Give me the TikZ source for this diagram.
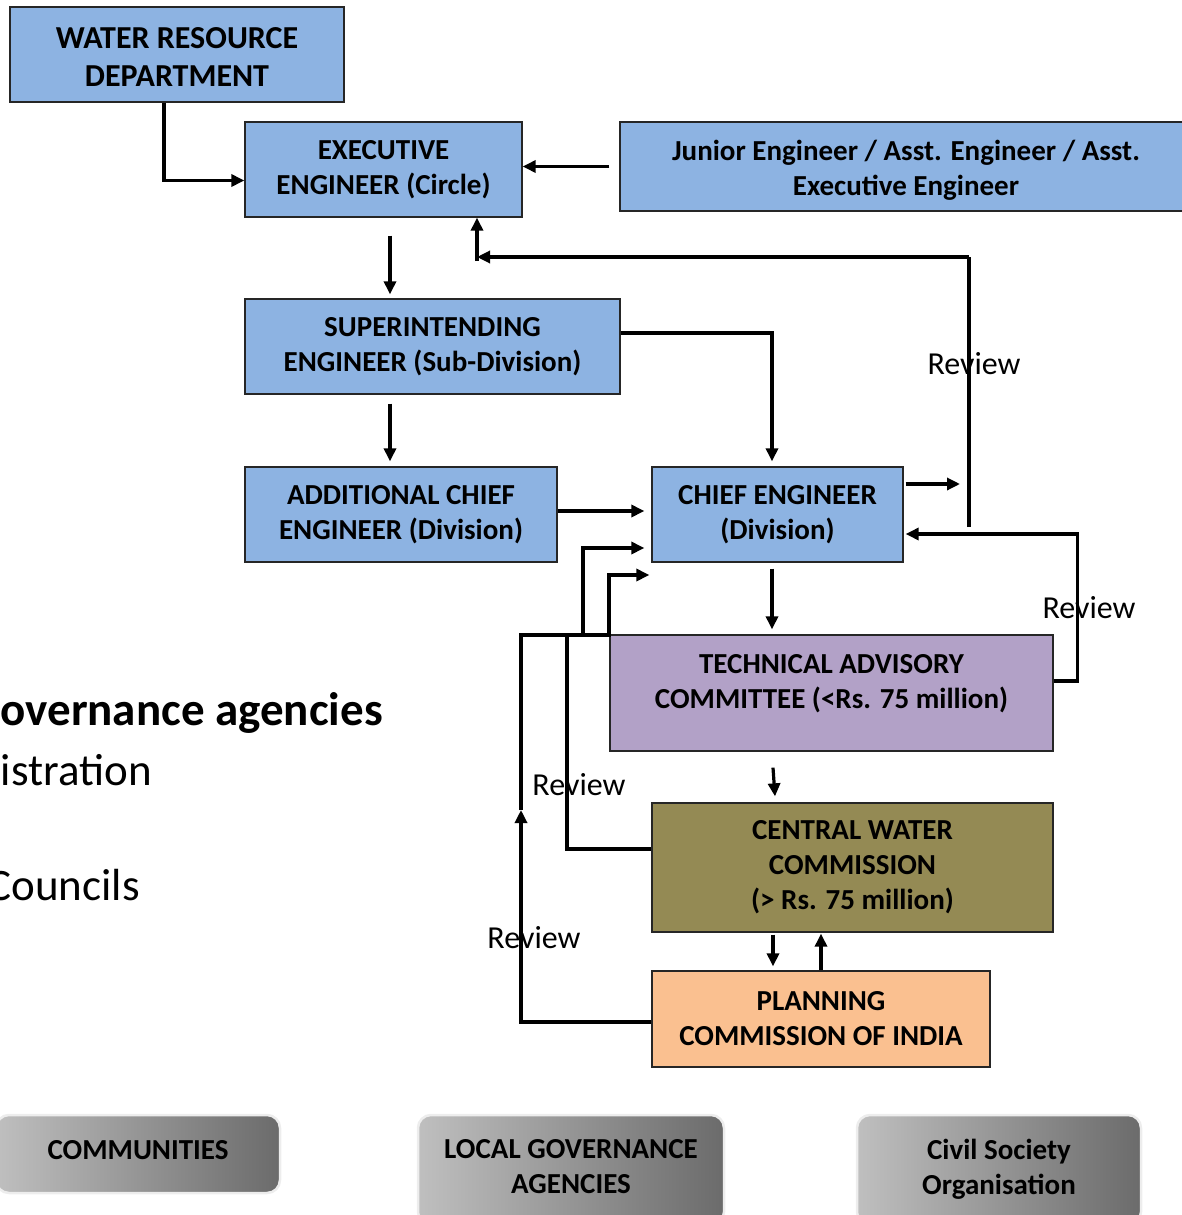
\documentclass[tikz,border=0pt]{standalone}
\usepackage{fontspec}
\setmainfont{Carlito}
\usetikzlibrary{arrows.meta}

\definecolor{deptblue}{HTML}{8DB3E2}
\definecolor{tacpurple}{HTML}{B2A1C7}
\definecolor{cwcolive}{HTML}{948A54}
\definecolor{pcipeach}{HTML}{FAC090}

\begin{document}
\begin{tikzpicture}[x=1pt,y=-1pt,
    every node/.style={inner sep=0pt},
    boxtext/.style={font=\bfseries\fontsize{29}{35}\selectfont, align=center},
    chartbox/.style={boxtext, draw=black!85, line width=1.3pt},
    graybox/.style={boxtext, rounded corners=13pt, left color=black!25, right color=black!58,
      draw=black!7, line width=2.5pt},
    wire/.style={line width=3.2pt},
    conn/.style={wire, -{Triangle[length=13pt,width=12pt]}},
    review/.style={font=\fontsize{32}{38}\selectfont}]

  \useasboundingbox (0,0) rectangle (1182,1215);

  % text left over on the slide
  \node[anchor=base east, font=\bfseries\fontsize{47}{54}\selectfont] (gov) at (383,725) {overnance agencies};
  \node[anchor=base east, font=\fontsize{45}{52}\selectfont] (adm) at (152,785) {istration};
  \node[anchor=base east, font=\fontsize{45}{52}\selectfont] (cou) at (140,900) {Councils};

  % hierarchy
  \node[chartbox, fill=deptblue, minimum width=334pt, minimum height=95pt] (wrd) at (177,54.5) {};
  \node[boxtext, font=\bfseries\fontsize{32}{38}\selectfont] (wrdtext) at ([yshift=-3pt]wrd.center) {WATER RESOURCE\\DEPARTMENT};
  \node[chartbox, fill=deptblue, minimum width=277pt, minimum height=95pt] (ee) at (383.5,169.5) {EXECUTIVE\\ENGINEER (Circle)};
  \node[chartbox, fill=deptblue, minimum width=572pt, minimum height=89pt] (je) at (906,166.5) {};
  \node[boxtext] (jetext) at ([yshift=-4pt]je.center) {Junior Engineer / Asst. Engineer / Asst.\\Executive Engineer};
  \node[chartbox, fill=deptblue, minimum width=375pt, minimum height=95pt] (se) at (432.5,346.5) {SUPERINTENDING\\ENGINEER (Sub-Division)};
  \node[chartbox, fill=deptblue, minimum width=312pt, minimum height=95pt] (ace) at (401,514.5) {ADDITIONAL CHIEF\\ENGINEER (Division)};
  \node[chartbox, fill=deptblue, minimum width=251pt, minimum height=95pt] (ce) at (777.5,514.5) {CHIEF ENGINEER\\(Division)};
  \node[chartbox, fill=tacpurple, minimum width=443pt, minimum height=116pt] (tac) at (831.5,693) {};
  \node[boxtext] (tactext) at ([yshift=9pt]tac.center) {TECHNICAL ADVISORY\\COMMITTEE (<Rs. 75 million)};
  \node[chartbox, fill=cwcolive, minimum width=401pt, minimum height=129pt] (cwc) at (852.5,867.5) {CENTRAL WATER\\COMMISSION\\(> Rs. 75 million)};
  \node[chartbox, fill=pcipeach, minimum width=338pt, minimum height=96pt] (pci) at (821,1019) {PLANNING\\COMMISSION OF INDIA};

  % stakeholders
  \node[graybox, minimum width=284pt, minimum height=78pt] (com) at (138,1154) {};
  \node[boxtext] (comtext) at ([yshift=4pt]com.center) {COMMUNITIES};
  \node[graybox, minimum width=306pt, minimum height=110pt] (lga) at (571,1170) {};
  \node[boxtext] (lgatext) at ([yshift=3pt]lga.center) {LOCAL GOVERNANCE\\AGENCIES};
  \node[graybox, minimum width=284pt, minimum height=110pt] (cso) at (999,1170) {};
  \node[boxtext] (csotext) at ([yshift=1pt]cso.center) {Civil Society\\Organisation};

  % review labels, crossed by the lines
  \node[review] (rv1) at (974,364) {Review};
  \node[review] (rv2) at (1089,608) {Review};
  \node[review] (rv3) at (579,785) {Review};
  \node[review] (rv4) at (534,938) {Review};

  \coordinate (wx) at (164,0);
  \coordinate (sx) at (390,0);
  \coordinate (cx) at (772,0);
  \coordinate (ceout) at (960,484);
  \coordinate (rtop) at (969,257);
  \coordinate (rbend) at (477,257);
  \coordinate (pup) at (521,810);

  \draw[conn] (wrd.south -| wx) |- ([yshift=-11pt]ee.west);
  \draw[conn] ([xshift=-10pt]je.west) -- (ee.east |- je.west);
  \draw[conn] ([yshift=-18pt]ee.south -| sx) -- ([yshift=4pt]se.north -| sx);
  \draw[conn] ([yshift=-9pt]se.south -| sx) -- ([yshift=5pt]ace.north -| sx);
  \draw[conn] ([yshift=13.5pt]se.east) -| ([yshift=5pt]ce.north -| cx);
  \draw[conn] ([yshift=3.5pt]ace.east) -- ([xshift=-7pt,yshift=3.5pt]ce.west);
  \draw[conn] ([xshift=2pt,yshift=30.5pt]ce.east) -- (ceout);

  % review back to the executive engineer
  \draw[wire] ([yshift=-12.5pt]ce.east -| rtop) -- (rtop);
  \draw[conn] (rtop) -- (rbend);
  \draw[conn] ([yshift=-4pt]rbend) -- (rbend |- ee.south);

  \draw[conn] ([yshift=12pt]tac.east) -- ++(24,0) |- ([xshift=2pt,yshift=-19.5pt]ce.east);
  \draw[conn] ([yshift=-6pt]ce.south -| cx) -- ([yshift=5pt]tac.north -| cx);
  \draw[conn] ([xshift=-2pt,yshift=-16pt]tac.south -| 775,0) -- ([yshift=6pt]cwc.north -| 775,0);
  \draw[conn] ([yshift=-2pt]cwc.south -| 773,0) -- ([yshift=4pt]pci.north -| 773,0);
  \draw[conn] (pci.north -| 821,0) -- ([yshift=-1pt]cwc.south -| 821,0);

  % review loops into the chief engineer
  \draw[conn] ([yshift=-3pt]pci.west) -| (pup);
  \draw[conn] (pup) |- (583,635) |- ([xshift=-7pt,yshift=-33.5pt]ce.west);
  \draw[conn] ([yshift=18.5pt]cwc.west) -| (567,635) -- (609,635) |- ([xshift=-2pt,yshift=-60.5pt]ce.west);
\end{tikzpicture}
\end{document}
